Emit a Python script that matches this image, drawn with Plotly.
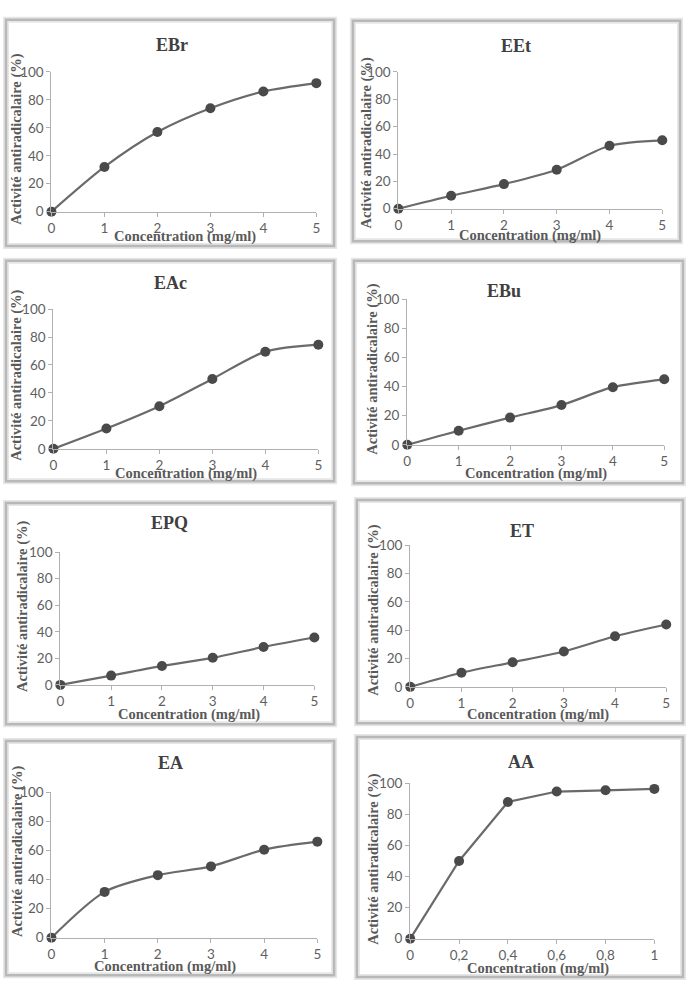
import plotly.graph_objects as go

W, H = 689, 992

# ---- data ----
conc = [0, 1, 2, 3, 4, 5]
conc_aa = [0, 0.2, 0.4, 0.6, 0.8, 1]
conc_aa_labels = ["0", "0,2", "0,4", "0,6", "0,8", "1"]

ebr = [0, 32, 57, 74, 86, 92]
eet = [0, 9.5, 18, 28.5, 46, 50]
eac = [0, 14.5, 30.5, 50, 69.5, 74.5]
ebu = [0, 9.7, 18.7, 27.3, 39.6, 45]
epq = [0, 7, 14.3, 20.4, 28.6, 35.7]
et = [0, 10, 17.4, 25, 35.7, 44]
ea = [0, 31.5, 43, 49, 60.5, 66]
aa = [0, 50, 88, 94.7, 95.5, 96.4]

titles = ["EBr", "EEt", "EAc", "EBu", "EPQ", "ET", "EA", "AA"]
series = [ebr, eet, eac, ebu, epq, et, ea, aa]
xvals = [conc] * 7 + [conc_aa]

y_title = "Activité antiradicalaire (%)"
x_title = "Concentration (mg/ml)"

# ---- layout geometry (pixels) ----
# plot area: x at min, x at max, y at 0, y at 100
plot_px = [
    (48, 316, 207, 65),
    (399, 666, 204, 65),
    (50, 318, 448, 306),
    (408, 668, 444, 296),
    (57, 314, 688, 553),
    (411, 670, 690, 546),
    (48, 317, 945, 797),
    (411, 658, 946, 788),
]
boxes_px = [
    (2, 12, 334, 242),
    (353, 13, 684, 237),
    (2, 257, 334, 481),
    (354, 257, 687, 483),
    (2, 503, 334, 728),
    (357, 500, 687, 727),
    (2, 745, 334, 983),
    (357, 741, 687, 985),
]
title_px = [(170, 38), (518, 39), (168, 279), (506, 288),
            (167, 523), (524, 532), (168, 767), (523, 766)]
ytitle_px = [(13, 133), (367, 137), (13, 373), (372, 367),
             (18, 608), (373, 612), (13, 857), (373, 865)]
xtitle_px = [(183, 232), (532, 231), (184, 473), (538, 473),
             (187, 718), (540, 718), (163, 974), (540, 976)]


def fx(p):
    return p / W


def fy(p):
    return 1 - p / H


fig = go.Figure()
layout = dict(
    width=W, height=H, margin=dict(l=0, r=0, t=0, b=0),
    paper_bgcolor="white", plot_bgcolor="white", showlegend=False,
    shapes=[], annotations=[],
)

tickfont = dict(family="Lato, Carlito, Liberation Sans", size=13.5, color="#5f5f5f")
serif_bold = "Liberation Serif, Times New Roman, serif"

for i in range(8):
    n = i + 1
    xa = "xaxis" if n == 1 else f"xaxis{n}"
    ya = "yaxis" if n == 1 else f"yaxis{n}"
    xref = "x" if n == 1 else f"x{n}"
    yref = "y" if n == 1 else f"y{n}"
    x0, x1, y0, y1 = plot_px[i]
    is_aa = (i == 7)
    xv = xvals[i]
    fig.add_trace(go.Scatter(
        x=xv, y=series[i], xaxis=xref, yaxis=yref, mode="lines+markers",
        line=dict(color="#6a6a6a", width=2.2,
                  shape="linear" if is_aa else "spline", smoothing=0.8),
        marker=dict(color="#4a4a4a", size=10),
        cliponaxis=False, hoverinfo="skip",
    ))
    layout[xa] = dict(
        domain=[fx(x0), fx(x1)], anchor=yref, range=[xv[0], xv[-1]],
        tickvals=xv, ticktext=conc_aa_labels if is_aa else [str(v) for v in xv],
        showgrid=False, zeroline=False, showline=True, linecolor="#b0b0b0",
        linewidth=1.2, ticks="outside", ticklen=4, tickcolor="#b0b0b0",
        tickfont=tickfont, fixedrange=True,
    )
    layout[ya] = dict(
        domain=[fy(y0), fy(y1)], anchor=xref, range=[0, 100],
        tickvals=[0, 20, 40, 60, 80, 100],
        showgrid=False, zeroline=False, showline=True, linecolor="#b0b0b0",
        linewidth=1.2, ticks="outside", ticklen=4, tickcolor="#b0b0b0",
        tickfont=tickfont, fixedrange=True,
    )
    bx0, by0, bx1, by1 = boxes_px[i]
    # soft shadow + border
    layout["shapes"].append(dict(
        type="rect", xref="paper", yref="paper", layer="below",
        x0=fx(bx0), x1=fx(bx1), y0=fy(by1), y1=fy(by0),
        line=dict(color="#e6e6e6", width=6)))
    layout["shapes"].append(dict(
        type="rect", xref="paper", yref="paper", layer="below",
        x0=fx(bx0), x1=fx(bx1), y0=fy(by1), y1=fy(by0),
        line=dict(color="#b8b8b8", width=2.5)))
    tx, ty = title_px[i]
    layout["annotations"].append(dict(
        text=f"<b>{titles[i]}</b>", x=fx(tx), y=fy(ty), xref="paper", yref="paper",
        showarrow=False, xanchor="center", yanchor="middle",
        font=dict(family=serif_bold, size=18, color="#404040")))
    ax, ay = ytitle_px[i]
    layout["annotations"].append(dict(
        text=f"<b>{y_title}</b>", x=fx(ax), y=fy(ay), xref="paper", yref="paper",
        showarrow=False, xanchor="center", yanchor="middle", textangle=-90,
        font=dict(family=serif_bold, size=14.5, color="#595959")))
    cx, cy = xtitle_px[i]
    layout["annotations"].append(dict(
        text=f"<b>{x_title}</b>", x=fx(cx), y=fy(cy), xref="paper", yref="paper",
        showarrow=False, xanchor="center", yanchor="middle",
        font=dict(family=serif_bold, size=14.5, color="#595959")))

fig.update_layout(**layout)
fig.write_html("out.html")
